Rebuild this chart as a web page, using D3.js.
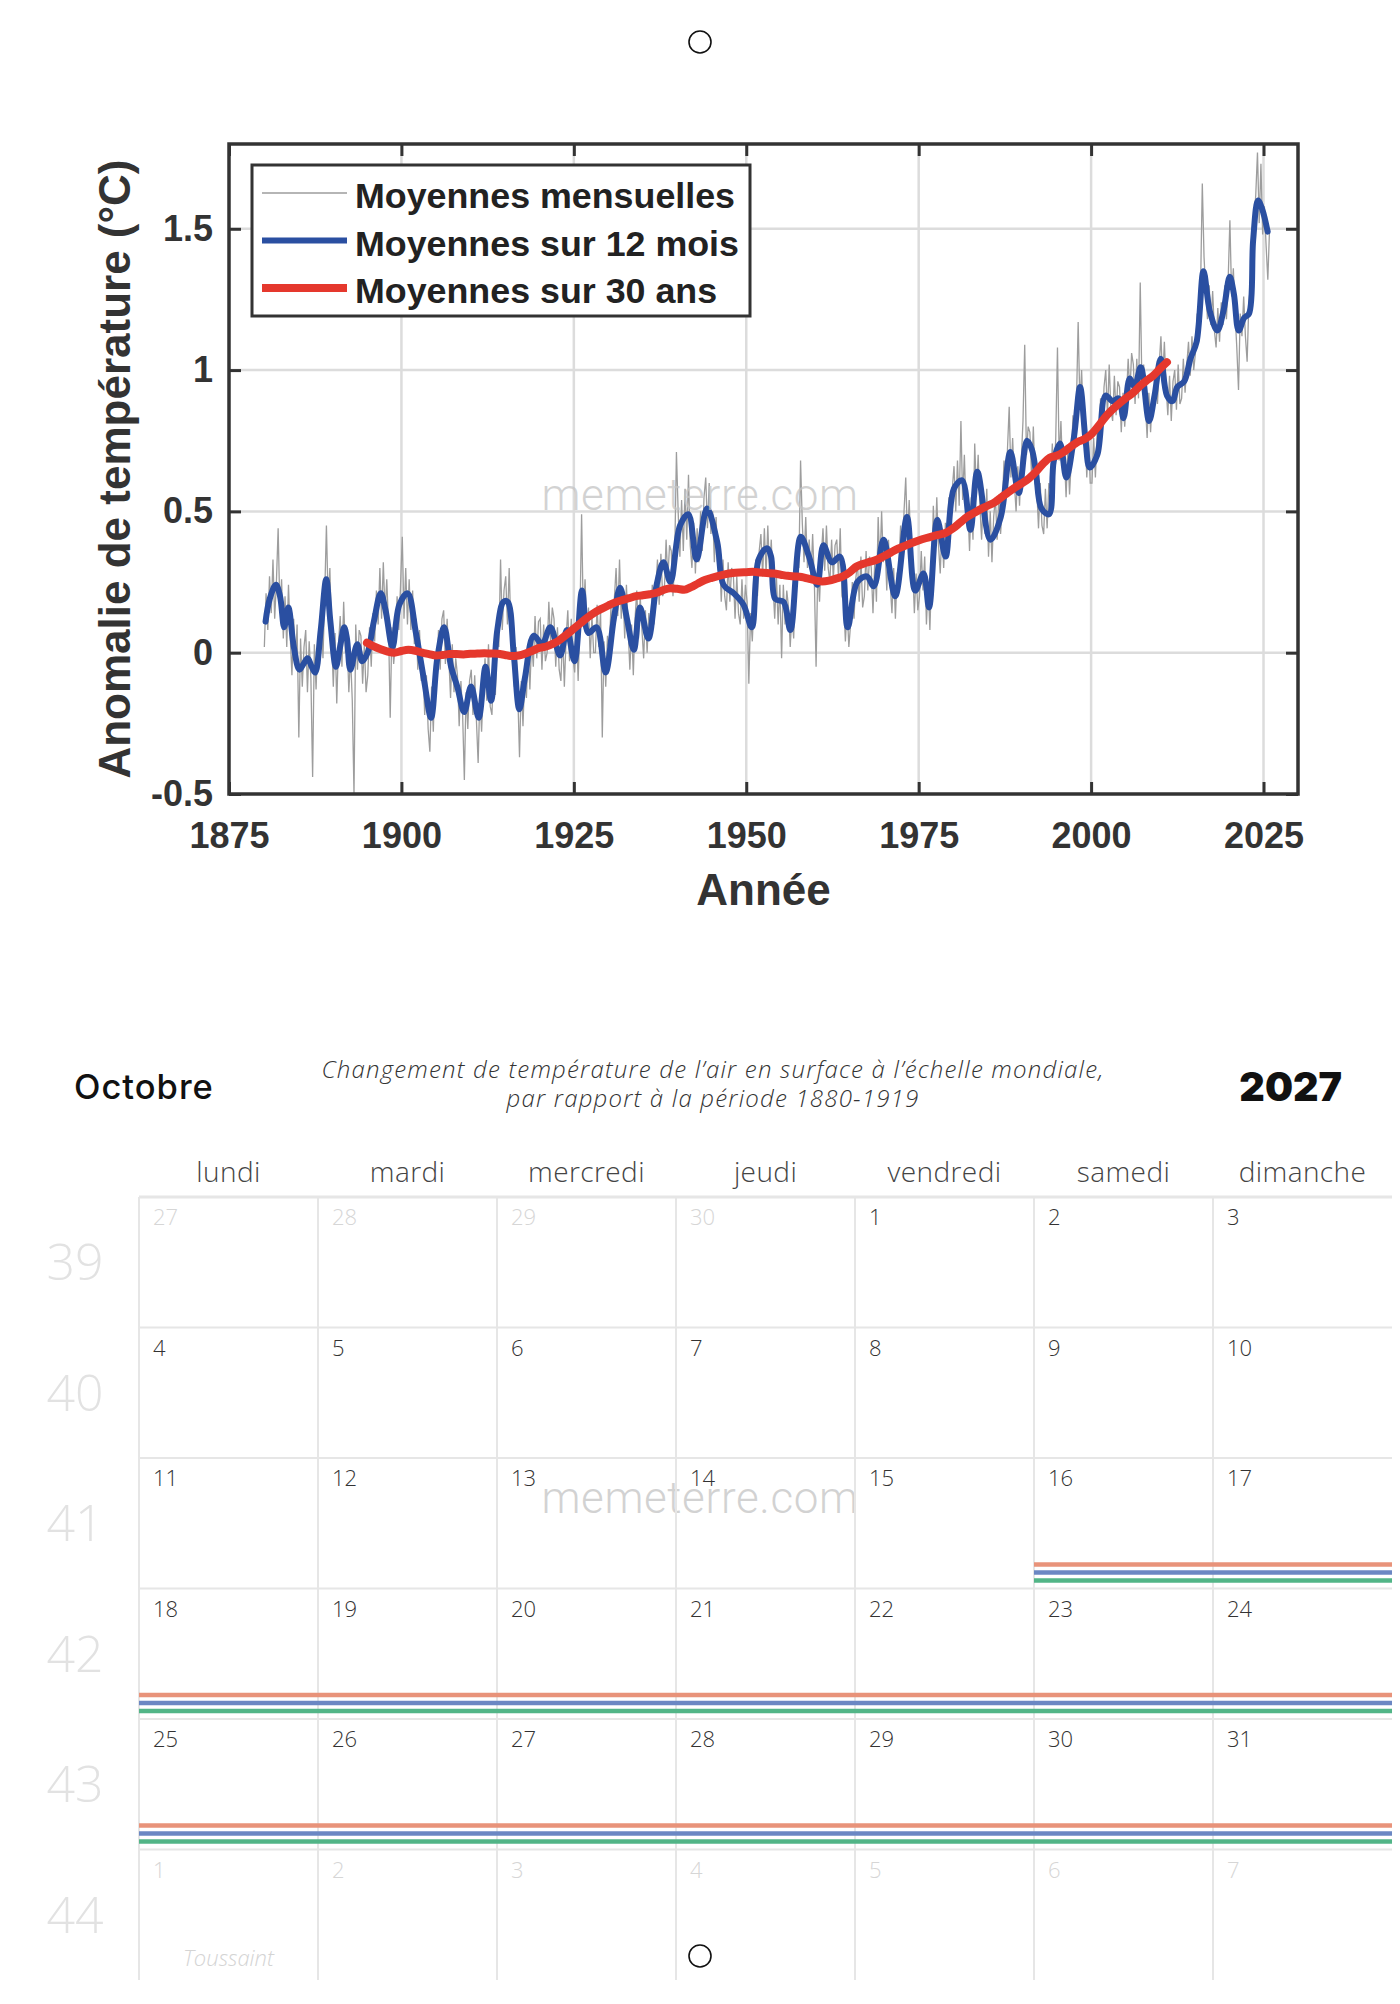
<!DOCTYPE html>
<html lang="fr">
<head>
  <meta charset="UTF-8">
  <title>Octobre 2027 – Anomalie de température</title>
  <script src="https://d3js.org/d3.v7.min.js"></script>
  <style>
    body { margin: 0; background: #fff; }
    svg { display: block; }
  </style>
</head>
<body>
<script>
  // ---------- Données du graphique ----------
  // Moyennes mensuelles (4 valeurs par an à partir de 1880)
  const debutMensuel = 1880;
  const mensuelles = [
    0.02,0.21,0.08,0.27, 0.14,0.33,0.12,0.25, 0.44,0.15,0.26,0.05, 0.20,0.02,0.24,0.06, -0.08,0.12,-0.04,0.10,
    -0.30,0.05,-0.12,0.02, 0.08,-0.14,0.04,-0.09, -0.44,0.03,-0.13,0.05, -0.04,0.14,-0.02,0.20, 0.45,0.18,0.30,0.06,
    -0.12,0.07,-0.18,0.03, 0.13,-0.05,0.18,0.00, 0.05,-0.14,-0.01,-0.17, -0.50,0.10,-0.06,0.08, 0.06,-0.11,0.03,-0.14,
    -0.08,0.09,-0.05,0.14, 0.04,0.22,0.10,0.30, 0.12,0.32,0.14,0.26, 0.10,-0.23,0.09,-0.04, 0.03,0.20,0.08,0.24,
    0.41,0.12,0.30,0.10, 0.26,0.08,0.22,0.03, 0.12,-0.06,0.08,-0.10, -0.05,-0.22,-0.08,-0.27, -0.35,-0.12,-0.28,-0.06,
    -0.10,0.08,-0.06,0.12, 0.15,-0.04,0.12,-0.02, -0.16,0.03,-0.14,-0.02, -0.08,-0.26,-0.10,-0.22, -0.45,-0.14,-0.27,-0.10,
    -0.06,-0.22,-0.08,-0.24, -0.39,-0.15,-0.28,-0.12, -0.02,-0.17,0.03,-0.19, -0.22,-0.04,-0.15,0.06, 0.02,0.33,0.08,0.22,
    0.27,0.10,0.30,0.08, 0.06,-0.12,0.02,-0.15, -0.37,-0.10,-0.26,-0.08, -0.16,0.02,-0.13,0.04, -0.05,0.13,-0.02,0.11,
    0.12,-0.06,0.10,-0.03, 0.00,0.18,0.04,0.16, 0.12,-0.05,0.09,-0.06, -0.10,0.07,-0.12,0.05, 0.15,-0.03,0.12,-0.02,
    -0.07,0.09,-0.10,0.11, 0.49,0.12,0.26,0.08, 0.16,-0.02,0.13,0.00, 0.00,0.17,0.02,0.15, -0.30,0.04,-0.12,0.06,
    0.00,0.16,0.04,0.19, 0.30,0.13,0.33,0.12, 0.22,0.05,0.24,0.08, -0.06,0.10,-0.08,0.12, 0.22,0.05,0.20,0.08,
    -0.02,0.15,0.00,0.14, 0.08,0.24,0.10,0.22, 0.33,0.17,0.35,0.20, 0.22,0.40,0.26,0.38, 0.36,0.20,0.34,0.71,
    0.50,0.34,0.54,0.36, 0.58,0.40,0.63,0.38, 0.30,0.46,0.28,0.44, 0.32,0.50,0.36,0.55, 0.62,0.44,0.60,0.42,
    0.50,0.32,0.48,0.30, 0.35,0.18,0.33,0.20, 0.15,0.32,0.18,0.30, 0.28,0.12,0.27,0.14, 0.10,0.26,0.12,0.24,
    0.18,-0.11,0.14,0.04, 0.18,0.33,0.20,0.36, 0.42,0.27,0.44,0.28, 0.45,0.28,0.40,0.24, 0.12,0.27,0.10,0.24,
    -0.02,0.24,0.10,0.22, 0.16,0.02,0.14,0.05, 0.24,0.40,0.30,0.68, 0.46,0.32,0.48,0.30, 0.40,0.26,0.42,0.25,
    -0.05,0.30,0.18,0.34, 0.44,0.29,0.45,0.30, 0.25,0.40,0.26,0.38, 0.40,0.26,0.44,0.20, 0.18,0.04,0.16,0.02,
    0.10,0.25,0.12,0.26, 0.32,0.18,0.34,0.16, 0.20,0.36,0.22,0.34, 0.30,0.14,0.32,0.18, 0.48,0.30,0.50,0.32,
    0.38,0.22,0.40,0.24, 0.14,0.30,0.12,0.28, 0.30,0.45,0.32,0.50, 0.62,0.40,0.54,0.36, 0.30,0.14,0.28,0.15,
    0.20,0.36,0.22,0.34, 0.10,0.25,0.08,0.28, 0.52,0.36,0.55,0.38, 0.28,0.44,0.30,0.46, 0.40,0.55,0.42,0.58,
    0.66,0.50,0.68,0.52, 0.82,0.54,0.70,0.50, 0.52,0.36,0.55,0.40, 0.74,0.56,0.70,0.52, 0.40,0.56,0.42,0.58,
    0.34,0.50,0.32,0.48, 0.55,0.40,0.56,0.42, 0.52,0.68,0.55,0.72, 0.87,0.62,0.76,0.60, 0.50,0.66,0.52,0.68,
    0.82,1.09,0.70,0.80, 0.78,0.62,0.80,0.60, 0.58,0.44,0.60,0.45, 0.42,0.58,0.44,0.60, 0.58,0.74,0.60,0.76,
    1.08,0.68,0.82,0.64, 0.70,0.55,0.72,0.56, 0.68,0.84,0.72,0.88, 1.17,0.88,1.00,0.82, 0.78,0.62,0.76,0.60,
    0.60,0.76,0.62,0.78, 0.76,0.90,0.78,0.94, 1.00,0.84,1.02,0.86, 0.82,0.98,0.84,0.96, 0.94,0.78,0.92,0.80,
    0.90,1.04,0.92,1.06, 1.02,0.88,1.04,0.90, 1.31,0.94,1.02,0.88, 0.76,0.92,0.78,0.90, 0.86,1.00,0.88,1.02,
    1.12,0.96,1.10,0.94, 0.84,0.98,0.82,0.96, 1.00,0.86,1.02,0.88, 0.90,1.04,0.92,1.02, 1.10,0.98,1.12,1.00,
    1.06,1.20,1.10,1.30, 1.66,1.40,1.28,1.18, 1.30,1.16,1.28,1.14, 1.08,1.22,1.10,1.24, 1.16,1.30,1.18,1.32,
    1.53,1.26,1.36,1.20, 1.08,0.93,1.20,1.12, 1.26,1.12,1.03,1.24, 1.30,1.40,1.52,1.62, 1.77,1.52,1.73,1.48,
    1.58,1.44,1.32,1.50
  ];

  // Moyennes sur 12 mois : [année, anomalie]
  const moy12 = [
    [1880.3,0.11],[1880.9,0.19],[1881.8,0.24],[1882.4,0.20],[1883.0,0.09],[1883.6,0.16],[1884.4,0.02],[1885.2,-0.06],
    [1885.8,-0.04],[1886.4,-0.02],[1887.0,-0.05],[1887.5,-0.07],[1888.3,0.08],[1889.1,0.26],[1889.7,0.11],[1890.5,-0.05],
    [1891.1,0.02],[1891.7,0.09],[1892.1,0.05],[1892.6,-0.06],[1893.6,0.03],[1894.3,-0.03],[1895.1,0.00],[1896.0,0.11],
    [1897.0,0.21],[1897.7,0.15],[1898.7,0.02],[1899.7,0.17],[1900.9,0.21],[1902.1,0.07],[1903.3,-0.10],[1904.3,-0.23],
    [1905.2,-0.02],[1906.2,0.09],[1907.2,-0.05],[1908.1,-0.12],[1909.1,-0.21],[1910.1,-0.12],[1911.2,-0.23],[1912.2,-0.05],
    [1913.0,-0.17],[1913.9,0.08],[1914.8,0.18],[1915.4,0.18],[1916.3,-0.01],[1917.1,-0.20],[1917.9,-0.09],[1919.2,0.06],
    [1920.4,0.03],[1921.6,0.09],[1923.0,-0.01],[1924.0,0.08],[1925.1,-0.03],[1926.2,0.22],[1927.1,0.07],[1928.3,0.09],
    [1929.6,-0.07],[1930.8,0.12],[1931.7,0.23],[1932.7,0.12],[1933.7,0.01],[1934.6,0.16],[1935.8,0.05],[1937.0,0.24],
    [1938.0,0.32],[1939.0,0.25],[1940.4,0.45],[1941.6,0.49],[1942.8,0.33],[1944.3,0.51],[1945.8,0.39],[1946.7,0.24],
    [1948.2,0.21],[1949.6,0.17],[1950.8,0.09],[1951.8,0.33],[1953.0,0.37],[1953.6,0.34],[1954.2,0.19],[1955.4,0.18],
    [1956.4,0.08],[1957.9,0.41],[1959.1,0.34],[1960.3,0.24],[1961.2,0.38],[1962.4,0.32],[1963.6,0.34],[1964.7,0.09],
    [1966.1,0.25],[1967.5,0.27],[1968.5,0.235],[1969.9,0.40],[1971.6,0.20],[1973.3,0.48],[1974.5,0.22],[1975.7,0.28],
    [1976.5,0.16],[1977.7,0.47],[1978.9,0.34],[1980.1,0.58],[1981.3,0.61],[1982.5,0.435],[1983.5,0.64],[1985.4,0.40],
    [1986.9,0.48],[1988.3,0.71],[1989.5,0.565],[1990.7,0.75],[1991.4,0.72],[1992.0,0.64],[1992.8,0.51],[1993.9,0.49],
    [1994.6,0.68],[1995.5,0.74],[1996.4,0.62],[1997.5,0.76],[1998.4,0.94],[1999.2,0.75],[1999.8,0.655],[2000.9,0.70],
    [2002.1,0.91],[2003.1,0.89],[2004.0,0.90],[2004.7,0.83],[2005.6,0.97],[2006.3,0.94],[2007.2,1.01],[2008.4,0.82],
    [2009.2,0.91],[2010.1,1.04],[2011.0,0.91],[2011.8,0.89],[2012.5,0.94],[2013.5,0.96],[2014.4,1.04],[2015.3,1.10],
    [2016.3,1.35],[2017.2,1.21],[2018.3,1.14],[2019.2,1.21],[2020.1,1.33],[2020.7,1.27],[2021.4,1.14],[2022.2,1.185],
    [2022.9,1.20],[2023.5,1.46],[2024.2,1.60],[2024.8,1.57],[2025.6,1.49]
  ];

  // Moyennes sur 30 ans, une valeur par an à partir de 1895
  const debut30 = 1895;
  const moy30 = [
    0.035,0.022,0.012,0.004,0.000,0.006,0.010,0.007,0.000,-0.005,
    -0.010,-0.008,-0.005,-0.005,-0.006,-0.004,-0.003,-0.002,-0.003,-0.004,
    -0.008,-0.012,-0.010,-0.003,0.007,0.017,0.022,0.032,0.046,0.065,
    0.085,0.105,0.125,0.142,0.155,0.167,0.178,0.186,0.193,0.200,
    0.203,0.207,0.212,0.222,0.228,0.226,0.223,0.232,0.245,0.257,
    0.265,0.272,0.278,0.282,0.284,0.285,0.286,0.284,0.282,0.280,
    0.276,0.272,0.270,0.268,0.262,0.256,0.252,0.255,0.262,0.270,
    0.285,0.305,0.315,0.322,0.330,0.342,0.355,0.368,0.378,0.388,
    0.397,0.405,0.412,0.418,0.425,0.440,0.460,0.480,0.494,0.508,
    0.520,0.532,0.550,0.568,0.585,0.600,0.617,0.640,0.668,0.690,
    0.697,0.710,0.728,0.745,0.755,0.772,0.800,0.832,0.858,0.880,
    0.900,0.918,0.942,0.962,0.980,1.005,1.028
  ];

  const anneesTicks = [1875, 1900, 1925, 1950, 1975, 2000, 2025];
  const anomTicks = [-0.5, 0, 0.5, 1, 1.5];
  const legende = ["Moyennes mensuelles", "Moyennes sur 12 mois", "Moyennes sur 30 ans"];

  // ---------- Données du calendrier ----------
  const mois = "Octobre";
  const annee = "2027";
  const sousTitre = [
    "Changement de température de l’air en surface à l’échelle mondiale,",
    "par rapport à la période 1880-1919"
  ];
  const jours = ["lundi", "mardi", "mercredi", "jeudi", "vendredi", "samedi", "dimanche"];
  const semaines = [39, 40, 41, 42, 43, 44];
  const grille = [
    [27, 28, 29, 30, 1, 2, 3],
    [4, 5, 6, 7, 8, 9, 10],
    [11, 12, 13, 14, 15, 16, 17],
    [18, 19, 20, 21, 22, 23, 24],
    [25, 26, 27, 28, 29, 30, 31],
    [1, 2, 3, 4, 5, 6, 7]
  ];
  const fetes = [{ semaine: 44, jour: "lundi", nom: "Toussaint" }];
  // vacances : semaine, premier jour couvert
  const vacances = [
    { semaine: 41, depuis: "samedi" },
    { semaine: 42, depuis: "lundi" },
    { semaine: 43, depuis: "lundi" }
  ];
  const couleursVacances = ["#e8937a", "#6b87c3", "#52b587"];

  const svg = d3.select("body").append("svg")
    .attr("width", 1400)
    .attr("height", 2004);

  // petits cercles (perforations)
  svg.selectAll(".trou")
    .data([42, 1956])
    .enter()
    .append("circle")
    .attr("cx", 700)
    .attr("cy", d => d)
    .attr("r", 11)
    .attr("fill", "none")
    .attr("stroke", "#111")
    .attr("stroke-width", 1.6);

  // ---------- Graphique ----------
  const x = d3.scaleLinear().domain([1875, 2030]).range([229, 1298]);
  const y = d3.scaleLinear().domain([-0.5, 1.8]).range([794, 144]);
  const police = "'Liberation Sans', Arial, Helvetica, sans-serif";

  const chart = svg.append("g");

  // grille
  chart.selectAll(".gx")
    .data(anneesTicks.slice(1))
    .enter()
    .append("line")
    .attr("x1", d => x(d)).attr("x2", d => x(d))
    .attr("y1", y(1.8)).attr("y2", y(-0.5))
    .attr("stroke", "#dcdcdc")
    .attr("stroke-width", 2.5);

  chart.selectAll(".gy")
    .data(anomTicks.slice(1))
    .enter()
    .append("line")
    .attr("x1", x(1875)).attr("x2", x(2030))
    .attr("y1", d => y(d)).attr("y2", d => y(d))
    .attr("stroke", "#dcdcdc")
    .attr("stroke-width", 2.5);

  // filigrane
  svg.selectAll(".filigrane")
    .data([510, 1513])
    .enter()
    .append("text")
    .attr("x", 700)
    .attr("y", d => d)
    .attr("text-anchor", "middle")
    .attr("font-family", "Roboto, 'Open Sans', sans-serif")
    .attr("font-weight", 300)
    .attr("font-size", 44)
    .attr("letter-spacing", 0.6)
    .attr("fill", "#c4c4c4")
    .attr("fill-opacity", 0.75)
    .text("memeterre.com");

  // séries
  const ligneMens = d3.line()
    .x((d, i) => x(debutMensuel + (i + 0.5) / 4))
    .y(d => y(d));

  chart.append("path")
    .datum(mensuelles)
    .attr("d", ligneMens)
    .attr("fill", "none")
    .attr("stroke", "#9d9d9d")
    .attr("stroke-width", 1.3);

  const ligne12 = d3.line()
    .x(d => x(d[0]))
    .y(d => y(d[1]))
    .curve(d3.curveCatmullRom.alpha(0.5));

  chart.append("path")
    .datum(moy12)
    .attr("d", ligne12)
    .attr("fill", "none")
    .attr("stroke", "#2a4fa1")
    .attr("stroke-width", 6)
    .attr("stroke-linejoin", "round")
    .attr("stroke-linecap", "round");

  const ligne30 = d3.line()
    .x((d, i) => x(debut30 + i))
    .y(d => y(d))
    .curve(d3.curveMonotoneX);

  chart.append("path")
    .datum(moy30)
    .attr("d", ligne30)
    .attr("fill", "none")
    .attr("stroke", "#e5382d")
    .attr("stroke-width", 8)
    .attr("stroke-linecap", "round");

  // axes (graduations vers l'intérieur sur les 4 côtés)
  const styleAxe = sel => {
    sel.select(".domain").remove();
    sel.selectAll(".tick line").attr("stroke", "#333").attr("stroke-width", 3);
    sel.selectAll(".tick text")
      .attr("fill", "#333")
      .attr("font-family", police)
      .attr("font-weight", "bold")
      .attr("font-size", 36);
  };

  chart.append("g")
    .attr("transform", `translate(0,${y(-0.5)})`)
    .call(d3.axisBottom(x).tickValues(anneesTicks).tickFormat(d3.format("d"))
      .tickSizeInner(-12).tickSizeOuter(0).tickPadding(28))
    .call(styleAxe);

  chart.append("g")
    .attr("transform", `translate(0,${y(1.8)})`)
    .call(d3.axisTop(x).tickValues(anneesTicks).tickFormat("")
      .tickSizeInner(-12).tickSizeOuter(0))
    .call(styleAxe);

  chart.append("g")
    .attr("transform", `translate(${x(1875)},0)`)
    .call(d3.axisLeft(y).tickValues(anomTicks).tickFormat(d => String(d))
      .tickSizeInner(-12).tickSizeOuter(0).tickPadding(16))
    .call(styleAxe);

  chart.append("g")
    .attr("transform", `translate(${x(2030)},0)`)
    .call(d3.axisRight(y).tickValues(anomTicks).tickFormat("")
      .tickSizeInner(-12).tickSizeOuter(0))
    .call(styleAxe);

  // cadre
  chart.append("rect")
    .attr("x", x(1875))
    .attr("y", y(1.8))
    .attr("width", x(2030) - x(1875))
    .attr("height", y(-0.5) - y(1.8))
    .attr("fill", "none")
    .attr("stroke", "#333")
    .attr("stroke-width", 3.5);

  // titres des axes
  chart.append("text")
    .attr("x", (x(1875) + x(2030)) / 2)
    .attr("y", 905)
    .attr("text-anchor", "middle")
    .attr("font-family", police)
    .attr("font-weight", "bold")
    .attr("font-size", 44)
    .attr("fill", "#333")
    .text("Année");

  chart.append("text")
    .attr("transform", `translate(130,${(y(1.8) + y(-0.5)) / 2}) rotate(-90)`)
    .attr("text-anchor", "middle")
    .attr("font-family", police)
    .attr("font-weight", "bold")
    .attr("font-size", 44)
    .attr("fill", "#333")
    .text("Anomalie de température (°C)");

  // légende
  const leg = chart.append("g");
  leg.append("rect")
    .attr("x", 252).attr("y", 165)
    .attr("width", 498).attr("height", 151)
    .attr("fill", "#fff")
    .attr("stroke", "#333")
    .attr("stroke-width", 3);

  const styleLeg = [
    { c: "#9d9d9d", w: 1.5 },
    { c: "#2a4fa1", w: 6 },
    { c: "#e5382d", w: 8 }
  ];
  const lignesLeg = leg.selectAll(".item")
    .data(legende)
    .enter()
    .append("g")
    .attr("transform", (d, i) => `translate(0,${193 + i * 47.5})`);

  lignesLeg.append("line")
    .attr("x1", 262).attr("x2", 347)
    .attr("stroke", (d, i) => styleLeg[i].c)
    .attr("stroke-width", (d, i) => styleLeg[i].w);

  lignesLeg.append("text")
    .attr("x", 355)
    .attr("y", 15)
    .attr("font-family", police)
    .attr("font-weight", "bold")
    .attr("font-size", 35.8)
    .attr("fill", "#222")
    .text(d => d);

  // ---------- Calendrier ----------
  const cal = svg.append("g");
  const col = d3.scaleBand().domain(jours).range([139, 1392]);
  const lig = d3.scaleBand().domain(semaines).range([1197, 1980]);
  const fontCal = "'Open Sans', 'DejaVu Sans', sans-serif";

  cal.append("text")
    .attr("x", 74).attr("y", 1099)
    .attr("font-family", "Inter, 'Open Sans', sans-serif")
    .attr("font-weight", 500)
    .attr("font-size", 34.5)
    .attr("letter-spacing", 1)
    .attr("fill", "#111")
    .text(mois);

  cal.append("text")
    .attr("x", 1342).attr("y", 1101)
    .attr("text-anchor", "end")
    .attr("font-family", "Inter, Roboto, sans-serif")
    .attr("font-weight", 900)
    .attr("font-size", 39.5)
    .attr("fill", "#111")
    .text(annee);

  cal.selectAll(".sous")
    .data(sousTitre)
    .enter()
    .append("text")
    .attr("x", 713)
    .attr("y", (d, i) => 1078 + i * 29)
    .attr("text-anchor", "middle")
    .attr("font-family", fontCal)
    .attr("font-style", "italic")
    .attr("font-weight", 300)
    .attr("font-size", 24)
    .attr("letter-spacing", 1.2)
    .attr("fill", "#333")
    .text(d => d);

  cal.selectAll(".jour")
    .data(jours)
    .enter()
    .append("text")
    .attr("x", d => col(d) + col.bandwidth() / 2)
    .attr("y", 1182)
    .attr("text-anchor", "middle")
    .attr("font-family", fontCal)
    .attr("font-weight", 300)
    .attr("font-size", 28)
    .attr("letter-spacing", 0.4)
    .attr("fill", "#444")
    .text(d => d);

  // lignes de la grille
  cal.selectAll(".h")
    .data(semaines)
    .enter()
    .append("line")
    .attr("x1", col.range()[0]).attr("x2", col.range()[1])
    .attr("y1", d => lig(d)).attr("y2", d => lig(d))
    .attr("stroke", "#e6e6e6")
    .attr("stroke-width", (d, i) => i === 0 ? 3 : 2);

  cal.selectAll(".v")
    .data(jours)
    .enter()
    .append("line")
    .attr("x1", d => col(d)).attr("x2", d => col(d))
    .attr("y1", lig.range()[0]).attr("y2", lig.range()[1])
    .attr("stroke", "#e6e6e6")
    .attr("stroke-width", 2);

  // numéros de semaine
  cal.selectAll(".sem")
    .data(semaines)
    .enter()
    .append("text")
    .attr("x", 75)
    .attr("y", d => lig(d) + lig.bandwidth() / 2 + 18)
    .attr("text-anchor", "middle")
    .attr("font-family", fontCal)
    .attr("font-weight", 300)
    .attr("font-size", 50)
    .attr("fill", "#e2e2e2")
    .text(d => d);

  // numéros des jours
  grille.forEach((rang, r) => {
    cal.selectAll(".j" + r)
      .data(rang)
      .enter()
      .append("text")
      .attr("x", (d, c) => col(jours[c]) + 14)
      .attr("y", lig(semaines[r]) + 28)
      .attr("font-family", fontCal)
      .attr("font-weight", 300)
      .attr("font-size", 22)
      .attr("fill", d => ((r === 0 && d > 20) || r === grille.length - 1) ? "#d6d6d6" : "#333")
      .text(d => d);
  });

  cal.selectAll(".fete")
    .data(fetes)
    .enter()
    .append("text")
    .attr("x", d => col(d.jour) + col.bandwidth() / 2)
    .attr("y", d => lig(d.semaine) + lig.bandwidth() - 14)
    .attr("text-anchor", "middle")
    .attr("font-family", fontCal)
    .attr("font-style", "italic")
    .attr("font-weight", 300)
    .attr("font-size", 22)
    .attr("fill", "#d4d4d4")
    .text(d => d.nom);

  // bandes de vacances
  vacances.forEach(v => {
    cal.selectAll(null)
      .data(couleursVacances)
      .enter()
      .append("line")
      .attr("x1", col(v.depuis))
      .attr("x2", col.range()[1])
      .attr("y1", (d, i) => lig(v.semaine) + lig.bandwidth() - 24 + i * 8)
      .attr("y2", (d, i) => lig(v.semaine) + lig.bandwidth() - 24 + i * 8)
      .attr("stroke", d => d)
      .attr("stroke-width", 4.5);
  });
</script>
</body>
</html>
